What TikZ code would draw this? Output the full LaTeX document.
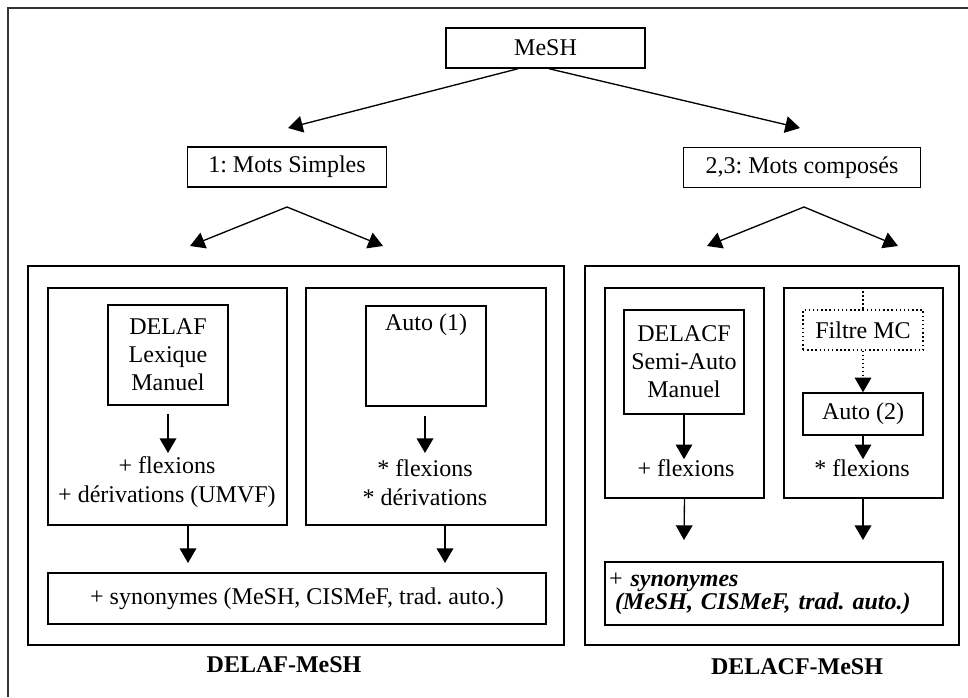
\documentclass[tikz,border=0pt]{standalone}
\usepackage{fontspec}
\setmainfont{Liberation Serif}
\usetikzlibrary{arrows.meta}
\newdimen\px \px=0.75pt
\frenchspacing
\begin{document}
\begin{tikzpicture}[x=0.75pt, y=-0.75pt,
  font=\fontsize{18}{21.5}\selectfont,
  bx/.style 2 args={draw, line width=1.1pt, inner sep=0pt, minimum width=#1\px, minimum height=#2\px, align=center},
  arr/.style={line width=1pt, -{Triangle[length=11pt, width=12.5pt]}},
  lbl/.style={inner sep=0pt, align=center},
]
\useasboundingbox (0,0) rectangle (968,697);
\fill[white] (0,0) rectangle (968,697);
\draw[line width=1.5pt, black!80] (968,8) -- (8,8) -- (8,697);

% top level
\node[bx={199}{40}] (mesh) at (545.5,48) {MeSH};
\node[bx={199}{40}] (simples) at (287,167) {1: Mots Simples};
\node[bx={237}{40}] (composes) at (802,167.5) {2,3: Mots compos\'es};

% big boxes
\node[bx={536}{379}] (bigL) at (296,455.5) {};
\node[bx={374}{379}] (bigR) at (772,455.5) {};

% left part
\node[bx={239}{237}] (secA) at (167.5,406.5) {};
\node[bx={240}{237}] (secB) at (426,406.5) {};
\node[bx={120}{100}, font=\fontsize{18}{21}\selectfont] (delaf) at (168,355) {DELAF\\Lexique\\Manuel};
\node[bx={120}{100}, label={[lbl, anchor=base, yshift=-25\px]north:Auto (1)}] (auto1) at (426,356) {};
\node[lbl, font=\fontsize{18}{21.75}\selectfont] (flexL) at (167,482.5) {+ flexions\\+ d\'erivations (UMVF)};
\node[lbl, font=\fontsize{18}{21.75}\selectfont] (flexA) at (425,482.5) {* flexions\\* d\'erivations};
\node[bx={498}{51}] (synL) at (297,598.5) {+ synonymes (MeSH, CISMeF, trad. auto.)};
\node[lbl, font=\bfseries\fontsize{18}{21}\selectfont] (labL) at (284,665) {DELAF-MeSH};

% right part
\node[bx={159}{210}] (secC) at (684.5,393) {};
\node[bx={159}{210}] (secD) at (863.5,393) {};
\node[bx={120}{104}, font=\fontsize{18}{21}\selectfont] (delacf) at (684,362) {DELACF\\Semi-Auto\\Manuel};
\node[bx={120}{40}, dotted] (filtre) at (863,330) {Filtre MC};
\node[bx={120}{42}] (auto2) at (863,414) {Auto (2)};
\node[lbl] (flexC) at (686,468) {+ flexions};
\node[lbl] (flexD) at (862,468) {* flexions};
\node[bx={338}{63}, text width=330\px, align=left, font=\fontsize{18}{15.5}\selectfont] (synR) at (774,593.5)
  {+ \textbf{\textit{synonymes}}\\\hspace*{6\px}\textbf{\textit{(MeSH, CISMeF, trad. auto.)}}};
\node[lbl, font=\bfseries\fontsize{18}{21}\selectfont] (labR) at (797,667) {DELACF-MeSH};

% arrow end points
\coordinate (tS) at (288,128);
\coordinate (tC) at (800,128);
\coordinate (fS) at (287,207);
\coordinate (fS1) at (190,246);
\coordinate (fS2) at (383,246);
\coordinate (fC) at (804,207);
\coordinate (fC1) at (707,246);
\coordinate (fC2) at (898,246);
\coordinate (tA) at (168,453);
\coordinate (tB) at (425,453);
\coordinate (tA2) at (188,563);
\coordinate (tB2) at (445,563);
\coordinate (tC2) at (684,540);
\coordinate (tD2) at (863,540);

% connectors
\draw[arr] ([xshift=-27.5\px]mesh.south) -- (tS);
\draw[arr] ([xshift=3.5\px]mesh.south) -- (tC);
\draw[arr] (fS) -- (fS1);
\draw[arr] (fS) -- (fS2);
\draw[arr] (fC) -- (fC1);
\draw[arr] (fC) -- (fC2);
\draw[arr] ([yshift=-8\px]delaf.south) -- (tA);
\draw[arr] ([yshift=-9\px]auto1.south -| tB) -- (tB);
\draw[arr] (secA.south -| tA2) -- (tA2);
\draw[arr] (secB.south -| tB2) -- (tB2);
\draw[arr] (delacf.south) -- (delacf.south |- flexC.north);
\draw[line width=1pt, dotted] (secD.north -| filtre.north) -- (filtre.north);
\draw[arr, dotted] (filtre.south) -- (auto2.north);
\draw[arr] (auto2.south) -- (auto2.south |- flexD.north);
\draw[arr] (secC.south) -- (tC2);
\draw[arr] (secD.south -| tD2) -- (tD2);
\end{tikzpicture}
\end{document}
